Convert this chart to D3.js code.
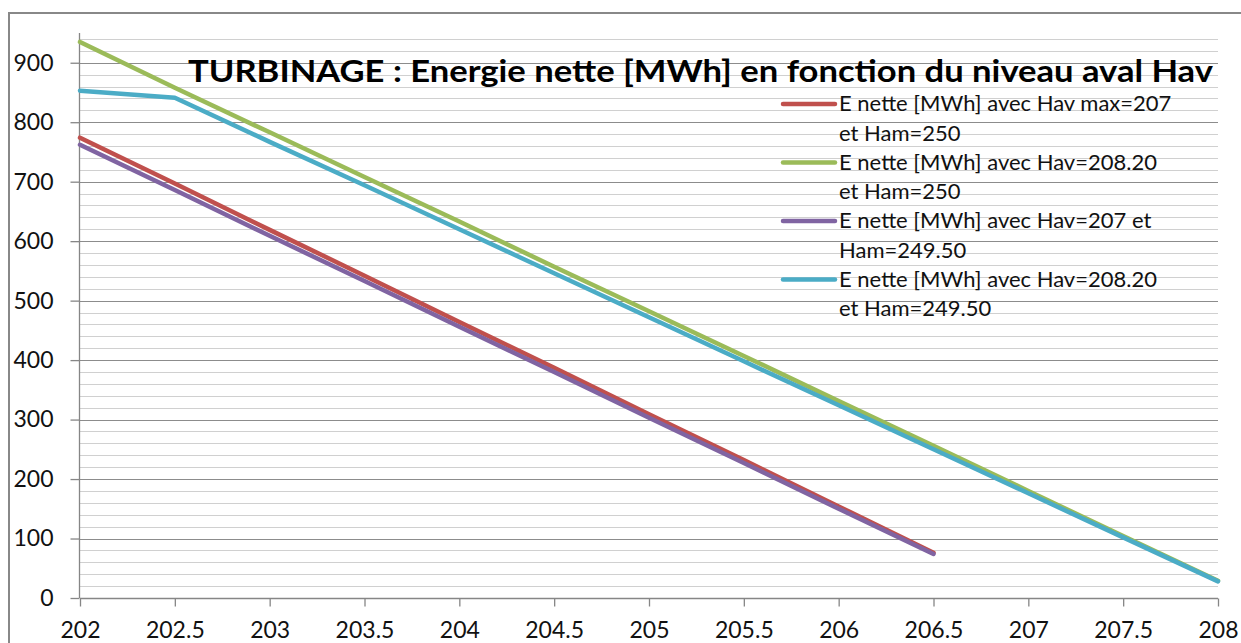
<!DOCTYPE html>
<html>
<head>
<meta charset="utf-8">
<script src="https://cdn.jsdelivr.net/npm/d3@7"></script>
<style>
  body { margin: 0; background: #fff; }
  svg { display: block; }
  text { font-family: Lato, "Open Sans", sans-serif; }
</style>
</head>
<body>
<div class="chart"></div>
<script>
var width = 1241, height = 643;

// Hav (niveau aval) et energie nette [MWh]
var hav = [202, 202.5, 203, 203.5, 204, 204.5, 205, 205.5, 206, 206.5, 207, 207.5, 208];
var eHavMax207Ham250 = [774, 697, 619, 542, 464, 387, 309, 232, 154, 76];
var eHav20820Ham250 = [935, 858, 783, 708, 633, 557, 482, 407, 331, 256, 180, 104, 29];
var eHav207Ham24950 = [762, 686, 609, 533, 456, 380, 303, 227, 150, 74];
var eHav20820Ham24950 = [853, 841, 767, 694, 620, 546, 472, 398, 324, 250, 176, 102, 28];

var seriesNames = [
    ["E nette [MWh] avec Hav max=207", "et Ham=250"],
    ["E nette [MWh] avec Hav=208.20", "et Ham=250"],
    ["E nette [MWh] avec Hav=207 et", "Ham=249.50"],
    ["E nette [MWh] avec Hav=208.20", "et Ham=249.50"]
];
var seriesColors = ["#c0504d", "#9bbb59", "#8064a2", "#4bacc6"];
var seriesValues = [eHavMax207Ham250, eHav20820Ham250, eHav207Ham24950, eHav20820Ham24950];

var xTicks = [202, 202.5, 203, 203.5, 204, 204.5, 205, 205.5, 206, 206.5, 207, 207.5, 208];
var yTicks = [0, 100, 200, 300, 400, 500, 600, 700, 800, 900];
var yMinor = d3.range(20, 950, 20).filter(function (v) { return v % 100 !== 0; });

var titleText = "TURBINAGE : Energie nette [MWh] en fonction du niveau aval Hav";

var svg = d3.select('.chart')
    .append('svg')
    .attr('width', width)
    .attr('height', height);

// cadre du graphique
svg.append('rect')
    .attr('x', 9).attr('y', 13)
    .attr('width', 1260).attr('height', 660)
    .attr('fill', 'none')
    .attr('stroke', '#888')
    .attr('stroke-width', 2);

var x = d3.scaleLinear().domain([202, 208]).range([80, 1218]);
var y = d3.scaleLinear().domain([0, 950]).range([598, 33]);

// grille secondaire
svg.append('g').selectAll('line')
    .data(yMinor)
    .enter()
    .append('line')
    .attr('x1', x(202)).attr('x2', x(208))
    .attr('y1', function (d) { return Math.round(y(d)) + 0.5; })
    .attr('y2', function (d) { return Math.round(y(d)) + 0.5; })
    .attr('stroke', '#d0d0d0')
    .attr('stroke-width', 1);

// grille principale
svg.append('g').selectAll('line')
    .data(yTicks.filter(function (d) { return d > 0; }))
    .enter()
    .append('line')
    .attr('x1', x(202)).attr('x2', x(208))
    .attr('y1', function (d) { return Math.round(y(d)) + 0.5; })
    .attr('y2', function (d) { return Math.round(y(d)) + 0.5; })
    .attr('stroke', '#8c8c8c')
    .attr('stroke-width', 1);

// axes
var yAxis = d3.axisLeft(y).tickValues(yTicks).tickSize(9).tickPadding(17).tickFormat(d3.format('d'));
var gy = svg.append('g')
    .attr('transform', 'translate(' + (x(202) - 0.5) + ',0)')
    .call(yAxis);

var xAxis = d3.axisBottom(x).tickValues(xTicks).tickSize(8).tickPadding(15)
    .tickFormat(function (d) { return String(d); });
var gx = svg.append('g')
    .attr('transform', 'translate(0,' + (Math.round(y(0)) + 0.5) + ')')
    .call(xAxis);

[gx, gy].forEach(function (g) {
    g.select('.domain').attr('stroke', '#868686').attr('stroke-width', 1.3);
    g.selectAll('.tick line').attr('stroke', '#868686').attr('stroke-width', 1.3);
    g.selectAll('.tick text')
        .attr('fill', '#111')
        .style('font-size', '23px')
        .style('font-family', 'Lato, sans-serif');
});
gy.select('.domain').attr('d', 'M0,' + y(950) + 'V' + y(0));
gx.select('.domain').attr('d', 'M' + x(202) + ',0H' + x(208));

// courbes
var line = d3.line()
    .x(function (d, i) { return x(hav[i]); })
    .y(function (d) { return y(d); });

svg.append('g').selectAll('path')
    .data(seriesValues)
    .enter()
    .append('path')
    .attr('d', function (d) { return line(d); })
    .attr('fill', 'none')
    .attr('stroke', function (d, i) { return seriesColors[i]; })
    .attr('stroke-width', 4.5)
    .attr('stroke-linejoin', 'round')
    .attr('stroke-linecap', 'round');

// titre
svg.append('text')
    .attr('x', 188)
    .attr('y', 82)
    .attr('textLength', 1025)
    .attr('lengthAdjust', 'spacingAndGlyphs')
    .style('font-size', '31px')
    .style('font-weight', 'bold')
    .attr('fill', '#000')
    .text(titleText);

// legende
var legend = svg.append('g').selectAll('g')
    .data(seriesNames)
    .enter()
    .append('g')
    .attr('transform', function (d, i) { return 'translate(0,' + (104 + i * 58.5) + ')'; });

legend.append('line')
    .attr('x1', 783).attr('x2', 835)
    .attr('y1', 0).attr('y2', 0)
    .attr('stroke', function (d, i) { return seriesColors[i]; })
    .attr('stroke-width', 4.5)
    .attr('stroke-linecap', 'round');

legend.selectAll('text')
    .data(function (d) { return d; })
    .enter()
    .append('text')
    .attr('x', 839)
    .attr('y', function (d, j) { return 7 + j * 29.5; })
    .style('font-size', '22px')
    .attr('fill', '#111')
    .text(function (d) { return d; });
</script>
</body>
</html>
